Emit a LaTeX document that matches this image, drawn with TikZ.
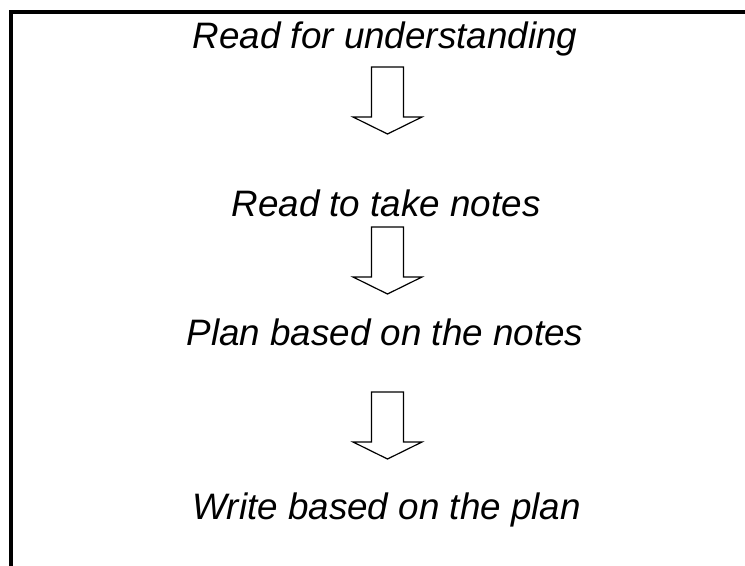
\documentclass[tikz,border=0pt]{standalone}
\usepackage{fontspec}
\setmainfont{Liberation Sans}
\usetikzlibrary{positioning}

\tikzset{
  step text/.style={anchor=base, font=\fontsize{18.4}{22}\selectfont\itshape},
  blockarrow/.pic={
    \draw[line width=0.6pt] (-16,0) -- (-16,50) -- (-34.5,50) -- (0,67) -- (34.5,50) -- (16,50) -- (16,0) -- cycle;
  }
}

\begin{document}
\begin{tikzpicture}[x=0.5pt,y=-0.5pt]
 \useasboundingbox (0,0) rectangle (745,566);

 %Frame
 \draw[line width=1.8pt] (11,566) -- (11,12) -- (745,12);

 %Steps
 \node (read) [step text] at (385,49) {Read for understanding};
 \node (notes) [step text] at (386,217) {Read to take notes};
 \node (plan) [step text] at (385,346) {Plan based on the notes};
 \node (write) [step text] at (386.5,520) {Write based on the plan};

 %Arrows
 \coordinate (arrowA) at (387.5,67);
 \coordinate (arrowB) at (387.5,227);
 \coordinate (arrowC) at (387.5,392);
 \pic at (arrowA) {blockarrow};
 \pic at (arrowB) {blockarrow};
 \pic at (arrowC) {blockarrow};

\end{tikzpicture}
\end{document}
